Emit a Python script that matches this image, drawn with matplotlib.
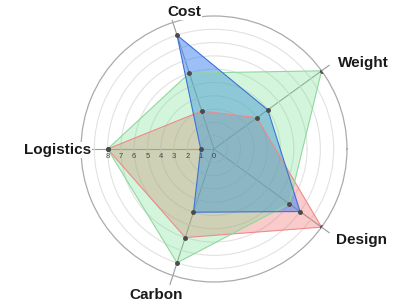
import numpy as np
import matplotlib
matplotlib.use('Agg')
from matplotlib import pyplot as plt
from matplotlib import transforms

# radar data
categories = ['Cost', 'Weight', 'Design', 'Carbon', 'Logistics']
series_blue = [9, 5, 8, 5, 1]
series_green = [6, 10, 7, 9, 8]
series_red = [3, 4, 10, 7, 8]
tick_values = [0, 1, 2, 3, 4, 5, 6, 7, 8]

plt.rcParams['font.family'] = ['Liberation Sans', 'DejaVu Sans']

angles = np.deg2rad([108, 36, -36, -108, 180])

fig = plt.figure(figsize=(4.03, 3.03), dpi=100)
ax = fig.add_axes([0.201, 0.0693, 0.660, 0.878], projection='polar')
ax.set_ylim(0, 10)
ax.set_xticks([])
ax.set_yticks(range(1, 10))
ax.set_yticklabels([])
ax.yaxis.grid(True, color='#e2e2e2', lw=0.8)
ax.xaxis.grid(False)
ax.spines['polar'].set_color('#ababab')
ax.spines['polar'].set_linewidth(0.9)

# spokes
for a in angles:
    ax.plot([a, a], [0, 10.7], color='#9a9a9a', lw=0.8, clip_on=False, zorder=1)

th = np.append(angles, angles[0])

def fill(vals, face, alpha):
    ax.fill(th, np.append(vals, vals[0]), color=face, alpha=alpha, zorder=2,
            lw=0)

def outline(vals, edge):
    ax.plot(th, np.append(vals, vals[0]), color=edge, lw=0.8, zorder=3)
    ax.plot(angles, vals, 'o', color='#4a4a4a', ms=2.5, zorder=4)

# fills: red, then blue, then green on top
fill(series_red, '#f26a6a', 0.35)
fill(series_blue, '#3a80f0', 0.5)
fill(series_green, '#6ee08a', 0.3)

outline(series_red, '#ee8a8a')
outline(series_green, '#8fd89e')
outline(series_blue, '#3c73d6')

# radial tick labels along Logistics axis
off = transforms.offset_copy(ax.transData, fig=fig, x=0, y=-8, units='dots')
for v in tick_values:
    ax.text(np.pi, v, str(v), transform=off, ha='center', va='center',
            fontsize=5.5, color='#444444', zorder=5)

# category labels
label_pos = [(102.4, 10.54), (30.0, 12.94), (-31.6, 13.06), (248.3, 11.8), (180.4, 11.73)]
for name, (deg, rr) in zip(categories, label_pos):
    ax.text(np.deg2rad(deg), rr, name, ha='center', va='center', fontsize=11,
            fontweight='bold', color='#1a1a1a',
            bbox=dict(facecolor='white', edgecolor='none', pad=0.5))

fig.savefig('out.png', dpi=100)
